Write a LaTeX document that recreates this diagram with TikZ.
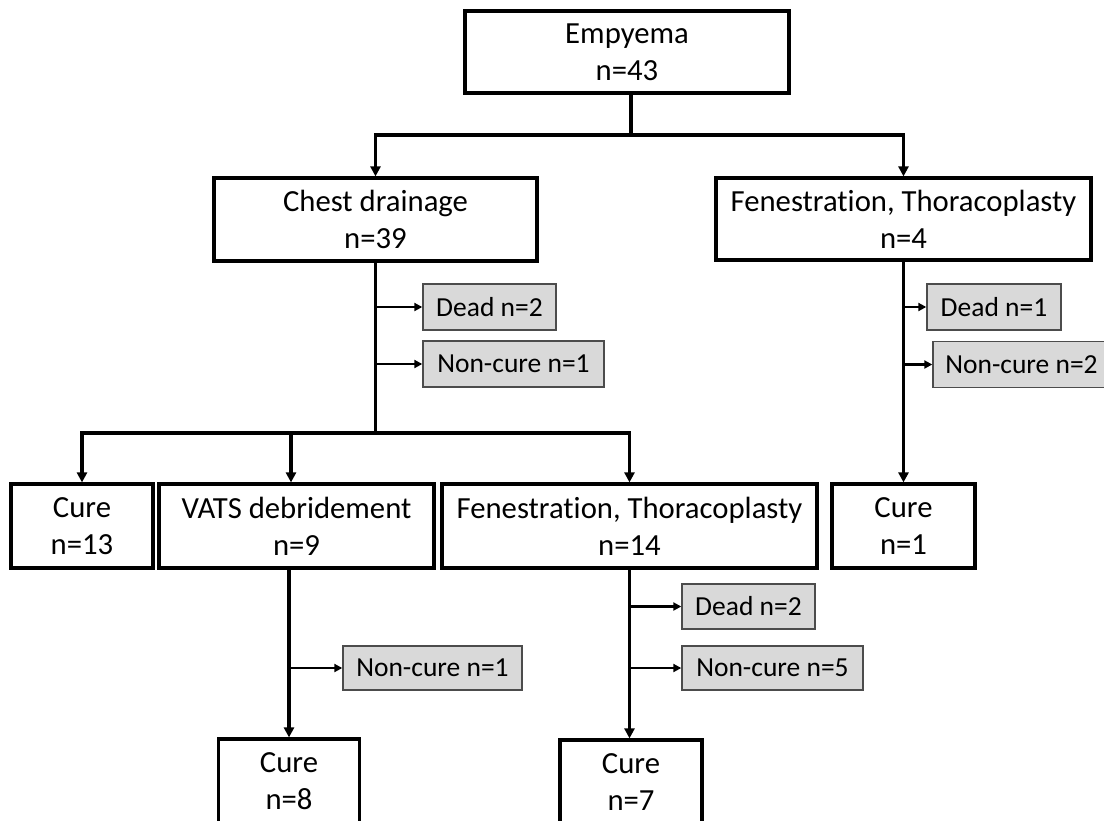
\documentclass[tikz,border=0pt]{standalone}
\usepackage{fontspec}
\setmainfont{Carlito}[Ligatures=NoCommon]
\usetikzlibrary{arrows.meta}
\begin{document}
\begin{tikzpicture}[x=1pt,y=-1pt,
  mainbox/.style={draw=black, line width=3.2pt, inner sep=0pt, align=center,
    font=\fontsize{30.7}{37}\selectfont},
  graybox/.style={draw=black!70, fill=black!15, line width=1.4pt, inner sep=0pt,
    align=center, minimum height=46pt, font=\fontsize{27.5}{33}\selectfont},
  link/.style={line width=3.2pt},
  arr/.style={link, -{Triangle[length=10pt,width=10pt]}},
  sarr/.style={line width=2.2pt, -{Triangle[length=8pt,width=8pt]}}]
\useasboundingbox (0,0) rectangle (1104,820);
% main boxes
\node[mainbox,minimum width=324pt,minimum height=82pt] (emp) at (627,52) {Empyema\\n=43};
\node[mainbox,minimum width=323pt,minimum height=83pt] (cd) at (375.5,219.5) {Chest drainage\\n=39};
\node[mainbox,minimum width=375pt,minimum height=82pt] (ft1) at (903.5,219) {Fenestration, Thoracoplasty\\n=4};
\node[mainbox,minimum width=142pt,minimum height=84pt] (cure13) at (82,526) {Cure\\n=13};
\node[mainbox,minimum width=275pt,minimum height=84pt] (vats) at (296.5,526) {VATS debridement\\n=9};
\node[mainbox,minimum width=375pt,minimum height=84pt] (ft14) at (629.5,526) {Fenestration, Thoracoplasty\\n=14};
\node[mainbox,minimum width=143pt,minimum height=84pt] (cure1) at (903.5,526) {Cure\\n=1};
\node[mainbox,minimum width=141pt,minimum height=84pt] (cure8) at (289,781) {Cure\\n=8};
\node[mainbox,minimum width=142pt,minimum height=84pt] (cure7) at (631,782) {Cure\\n=7};
% gray boxes
\node[graybox,minimum width=133pt] (dead1) at (489.5,307) {Dead n=2};
\node[graybox,minimum width=181pt] (nc1) at (513.5,364) {Non-cure n=1};
\node[graybox,minimum width=134pt] (dead2) at (994,307) {Dead n=1};
\node[graybox,minimum width=177pt] (nc2) at (1021.5,364.5) {Non-cure n=2};
\node[graybox,minimum width=179pt,minimum height=44pt] (nc3) at (432.5,668) {Non-cure n=1};
\node[graybox,minimum width=133pt,minimum height=45pt] (dead3) at (748.5,606.5) {Dead n=2};
\node[graybox,minimum width=181pt,minimum height=44pt] (nc4) at (772.5,668) {Non-cure n=5};
% connectors from Empyema
\coordinate (j1) at (631,135);
\draw[link] (emp.south -| j1) -- (j1);
\draw[arr] (j1) -| (cd.north);
\draw[arr] (j1) -| (ft1.north);
% chest drainage
\coordinate (j2) at (375.5,433);
\draw[link] (cd.south) -- (j2);
\draw[sarr] (dead1.west -| j2) -- (dead1.west);
\draw[sarr] (nc1.west -| j2) -- (nc1.west);
\draw[arr] (j2) -| (cure13.north);
\draw[arr] (j2) -| (ft14.north);
\coordinate (va) at (291,433);
\draw[arr] (va) -- (va |- vats.north);
% VATS
\draw[arr] (vats.south -| cure8.north) -- (cure8.north);
\draw[sarr] (nc3.west -| cure8.north) -- (nc3.west);
% FT n=14
\draw[arr] (ft14.south) -- (ft14.south |- cure7.north);
\draw[sarr] (dead3.west -| ft14.south) -- (dead3.west);
\draw[sarr] (nc4.west -| ft14.south) -- (nc4.west);
% FT n=4
\draw[arr] (ft1.south) -- (cure1.north);
\draw[sarr] (dead2.west -| ft1.south) -- (dead2.west);
\draw[sarr] (nc2.west -| ft1.south) -- (nc2.west);
\end{tikzpicture}
\end{document}
